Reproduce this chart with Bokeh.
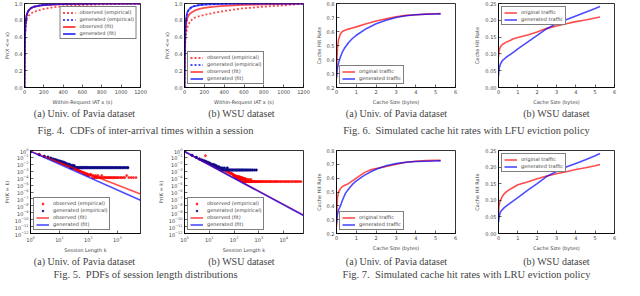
from bokeh.plotting import figure
from bokeh.layouts import column, row
from bokeh.models import (FixedTicker, NumeralTickFormatter, Legend, LegendItem,
                          Label, Range1d)
from bokeh.embed import file_html
from bokeh.resources import INLINE

# ---------------- data ----------------
# Fig. 4: CDFs of within-session inter-arrival times
iat_x = [0, 2, 5, 10, 15, 20, 30, 40, 60, 80, 100, 150, 200, 300, 400, 500, 600, 800, 1000, 1200]
pavia_cdf_obs_emp = [0, 0.40, 0.60, 0.70, 0.76, 0.79, 0.83, 0.85, 0.875, 0.89, 0.90, 0.92, 0.935, 0.955, 0.967, 0.975, 0.982, 0.99, 0.995, 1.0]
pavia_cdf_gen_emp = [0, 0.33, 0.58, 0.73, 0.80, 0.845, 0.885, 0.912, 0.94, 0.954, 0.963, 0.976, 0.983, 0.99, 0.994, 0.996, 0.997, 0.998, 0.999, 1.0]
pavia_cdf_obs_fit = [0, 0.38, 0.62, 0.75, 0.815, 0.85, 0.885, 0.91, 0.935, 0.95, 0.96, 0.973, 0.98, 0.988, 0.992, 0.994, 0.996, 0.998, 0.999, 1.0]
pavia_cdf_gen_fit = [0, 0.35, 0.60, 0.74, 0.81, 0.85, 0.89, 0.915, 0.94, 0.955, 0.963, 0.975, 0.982, 0.989, 0.993, 0.995, 0.996, 0.998, 0.999, 1.0]
wsu_cdf_obs_emp = [0, 0.28, 0.45, 0.57, 0.63, 0.67, 0.72, 0.75, 0.79, 0.815, 0.83, 0.85, 0.865, 0.89, 0.91, 0.928, 0.943, 0.962, 0.978, 1.0]
wsu_cdf_gen_emp = [0, 0.32, 0.56, 0.73, 0.80, 0.845, 0.895, 0.92, 0.948, 0.962, 0.97, 0.982, 0.988, 0.994, 0.997, 0.998, 0.999, 1.0, 1.0, 1.0]
wsu_cdf_obs_fit = [0, 0.30, 0.50, 0.65, 0.73, 0.78, 0.83, 0.855, 0.885, 0.90, 0.915, 0.935, 0.948, 0.962, 0.972, 0.979, 0.984, 0.99, 0.995, 0.998]
wsu_cdf_gen_fit = [0, 0.30, 0.55, 0.72, 0.80, 0.85, 0.90, 0.92, 0.945, 0.96, 0.97, 0.982, 0.988, 0.994, 0.996, 0.998, 0.999, 1.0, 1.0, 1.0]
iat_ticks = [0, 200, 400, 600, 800, 1000, 1200]
cdf_ticks = [0.0, 0.2, 0.4, 0.6, 0.8, 1.0]

# Fig. 5: PDFs of session length
pavia_k_obs = [1, 2, 3, 4, 5, 6, 7, 8, 9, 10, 11, 12, 13, 14, 15, 16, 17, 18, 19, 20,
               22, 24, 25, 27, 30, 32, 35, 38, 40, 43, 45, 48, 50,
               55, 60, 65, 70, 75, 80, 85, 90, 95, 100,
               110, 120, 130, 140, 150, 160, 170, 180, 190, 200,
               215, 230, 250, 270, 290, 310, 340, 370, 400,
               440, 480, 520, 570, 620, 680, 750, 820, 900, 1000,
               1100, 1250, 1400, 1600, 1800, 2100, 2500, 3000, 3600, 4400]
pavia_p_obs = [0.62, 0.24, 0.13, 0.085, 0.06, 0.042, 0.034, 0.027, 0.022, 0.018, 0.016, 0.013, 0.012, 0.0105, 0.009, 0.0085, 0.0075, 0.0068, 0.006, 0.0058,
               0.0048, 0.0042, 0.0036, 0.0034, 0.0026, 0.0025, 0.002, 0.0018, 0.0015, 0.0014, 0.0012, 0.0011, 0.001,
               0.00085, 0.0007, 0.0006, 0.00055, 0.00048, 0.0004, 0.00036, 0.00036, 0.0003, 0.00024,
               0.00024, 0.00036, 0.00024, 0.00012, 0.00024, 0.00012, 0.00012, 0.00024, 0.00012, 0.00012,
               0.00024, 0.00012, 0.00012, 0.00012, 0.00024, 0.00012, 0.00012, 0.00012, 0.00012,
               0.00012, 0.00012, 0.00012, 0.00012, 0.00012, 0.00012, 0.00012, 0.00012, 0.00012, 0.00012,
               0.00012, 0.00012, 0.00012, 0.00012, 0.00012, 0.00024, 0.00012, 0.00012, 0.00012, 0.00012]
pavia_k_gen = [1, 2, 3, 4, 5, 6, 7, 8, 9, 10, 11, 12, 13, 14, 15, 16, 17, 18, 19, 20,
               21, 22, 23, 24, 25, 26, 27, 28, 29, 30,
               32, 34, 36, 38, 40, 43, 46, 50, 54, 58,
               63, 68, 74, 80, 87, 95, 105, 115, 125, 140,
               155, 170, 190, 210, 235, 260, 290, 320, 360, 400,
               450, 500, 560, 630, 700, 800, 900, 1000, 1150, 1300,
               1500, 1700, 2000, 2300]
pavia_p_gen = [0.62, 0.27, 0.15, 0.11, 0.08, 0.06, 0.05, 0.04, 0.033, 0.03, 0.027, 0.023, 0.02, 0.02, 0.0167, 0.0133, 0.0133, 0.01, 0.01, 0.01,
               0.0067, 0.01, 0.0067, 0.0067, 0.0033, 0.0067, 0.0033, 0.0067, 0.0033, 0.0033,
               0.0067, 0.0033, 0.0033, 0.0033, 0.0033, 0.0033, 0.0033, 0.0033, 0.0033, 0.0033,
               0.0033, 0.0033, 0.0033, 0.0033, 0.0033, 0.0033, 0.0033, 0.0033, 0.0033, 0.0033,
               0.0033, 0.0033, 0.0033, 0.0033, 0.0033, 0.0033, 0.0033, 0.0033, 0.0033, 0.0033,
               0.0033, 0.0033, 0.0033, 0.0033, 0.0033, 0.0033, 0.0033, 0.0033, 0.0033, 0.0033,
               0.0033, 0.0033, 0.0033, 0.0033]
pavia_fit_k = [1, 6300]
pavia_fit_obs = [0.75, 5.0e-7]
pavia_fit_gen = [0.75, 6.3e-8]

wsu_k_obs = [1, 2, 3, 4, 5, 6, 7, 8, 9, 10,
             12, 14, 16, 18, 20, 22, 25, 28, 30, 33, 36, 40, 45, 50, 55, 60, 65, 70, 75, 80, 85, 90, 95,
             100, 104, 108, 112, 116, 120, 124, 128, 132, 136,
             140, 144, 148, 152, 156, 160, 165, 170, 175, 180,
             185, 190, 195, 200, 206, 212, 218, 224, 230, 237,
             244, 251, 258, 266, 274, 282, 290, 300, 310, 320,
             335, 350, 365, 380, 400, 420, 440, 460, 480, 500,
             530, 560, 600, 640, 690, 740, 800, 860, 930, 1000,
             1100, 1200, 1300, 1450, 1600, 1800, 2000, 2200, 2500, 2800,
             3100, 3500, 4000, 4500, 5000, 5700, 6500, 7500, 8500, 10000,
             11500, 13000, 15000, 17000, 20000, 23000, 27000, 31000, 36000, 42000, 50000]
wsu_p_obs = [0.7, 0.2, 0.1, 0.06, 0.042, 0.03, 0.18, 0.019, 0.016, 0.013,
             0.0095, 0.0075, 0.006, 0.0052, 0.0045, 0.0038, 0.0031, 0.0026, 0.0023, 0.0019, 0.0017, 0.0014, 0.0012, 0.00095, 0.0008, 0.00075, 0.0006, 0.00055, 0.00045, 0.0005, 0.00038, 0.00035, 0.00029,
             2.6e-4, 1.9e-4, 2.2e-4, 1.6e-4, 2.2e-4, 1.3e-4, 1.9e-4, 1.6e-4, 9.6e-5, 1.6e-4,
             1.3e-4, 9.6e-5, 1.9e-4, 1.3e-4, 6.4e-5, 1.3e-4, 9.6e-5, 1.6e-4, 6.4e-5, 9.6e-5,
             1.3e-4, 6.4e-5, 9.6e-5, 6.4e-5, 1.3e-4, 3.2e-5, 9.6e-5, 6.4e-5, 3.2e-5, 9.6e-5,
             6.4e-5, 3.2e-5, 6.4e-5, 3.2e-5, 9.6e-5, 3.2e-5, 6.4e-5, 3.2e-5, 6.4e-5, 3.2e-5,
             3.2e-5, 6.4e-5, 3.2e-5, 3.2e-5, 6.4e-5, 3.2e-5, 3.2e-5, 3.2e-5, 6.4e-5, 3.2e-5,
             3.2e-5, 3.2e-5, 3.2e-5, 3.2e-5, 3.2e-5, 3.2e-5, 3.2e-5, 3.2e-5, 3.2e-5, 3.2e-5,
             3.2e-5, 3.2e-5, 3.2e-5, 3.2e-5, 3.2e-5, 3.2e-5, 3.2e-5, 3.2e-5, 3.2e-5, 3.2e-5,
             3.2e-5, 3.2e-5, 3.2e-5, 3.2e-5, 3.2e-5, 3.2e-5, 3.2e-5, 3.2e-5, 3.2e-5, 3.2e-5,
             3.2e-5, 3.2e-5, 3.2e-5, 3.2e-5, 3.2e-5, 3.2e-5, 3.2e-5, 3.2e-5, 3.2e-5, 3.2e-5, 3.2e-5]
wsu_k_gen = [1, 2, 3, 4, 5, 6, 7, 8, 9, 10, 11, 12, 13, 14, 15, 16, 17, 18, 19, 20,
             22, 24, 26, 28, 30, 33, 36, 40, 44, 48,
             53, 58, 64, 70, 77, 85, 94, 104, 115, 127,
             140, 155, 170, 190, 210, 235, 260, 290, 330, 370,
             420, 480, 550, 650, 780]
wsu_p_gen = [0.66, 0.21, 0.1, 0.06, 0.042, 0.033, 0.027, 0.021, 0.018, 0.015, 0.012, 0.0105, 0.009, 0.0075, 0.009, 0.006, 0.0075, 0.0045, 0.006, 0.0045,
             0.003, 0.0045, 0.003, 0.003, 0.0015, 0.003, 0.0015, 0.003, 0.0015, 0.0015,
             0.003, 0.0015, 0.0015, 0.0015, 0.0015, 0.0015, 0.0015, 0.0015, 0.0015, 0.0015,
             0.0015, 0.0015, 0.0015, 0.0015, 0.0015, 0.0015, 0.0015, 0.0015, 0.0015, 0.0015,
             0.0015, 0.0015, 0.0015, 0.0015, 0.0015]
wsu_fit_k = [1, 63000]
wsu_fit_obs = [0.7, 4.5e-10]
wsu_fit_gen = [0.7, 4.0e-10]
pdf_y_ticks = [1e-12, 1e-11, 1e-10, 1e-9, 1e-8, 1e-7, 1e-6, 1e-5, 1e-4, 1e-3, 1e-2, 1e-1, 1]

# Fig. 6 / 7: cache hit rate vs cache size (x in units of 1e8 bytes)
lfu_pavia_x = [0.0, 0.02, 0.05, 0.1, 0.2, 0.3, 0.4, 0.6, 0.8, 1.0, 1.5, 2.0, 2.5, 3.0, 3.5, 4.0, 4.5, 5.0, 5.25]
lfu_pavia_orig = [0.27, 0.40, 0.48, 0.54, 0.585, 0.60, 0.607, 0.617, 0.625, 0.633, 0.655, 0.675, 0.69, 0.705, 0.715, 0.72, 0.724, 0.727, 0.728]
lfu_pavia_gen = [0.27, 0.31, 0.34, 0.375, 0.42, 0.455, 0.48, 0.52, 0.55, 0.573, 0.62, 0.655, 0.68, 0.70, 0.713, 0.72, 0.723, 0.725, 0.726]
lfu_wsu_x = [0.0, 0.02, 0.05, 0.1, 0.2, 0.4, 0.6, 0.8, 1.0, 1.5, 2.0, 2.5, 3.0, 3.5, 4.0, 4.5, 5.0, 5.25]
lfu_wsu_orig = [0.09, 0.105, 0.113, 0.121, 0.128, 0.135, 0.14, 0.146, 0.149, 0.156, 0.165, 0.176, 0.183, 0.19, 0.196, 0.201, 0.207, 0.21]
lfu_wsu_gen = [0.035, 0.05, 0.06, 0.07, 0.08, 0.09, 0.098, 0.106, 0.115, 0.135, 0.155, 0.175, 0.19, 0.202, 0.213, 0.224, 0.235, 0.241]
lru_pavia_x = [0.0, 0.02, 0.05, 0.1, 0.2, 0.3, 0.45, 0.6, 0.8, 1.0, 1.2, 1.4, 1.7, 2.0, 2.5, 3.0, 3.5, 4.0, 4.5, 5.0, 5.25]
lru_pavia_orig = [0.25, 0.38, 0.46, 0.50, 0.525, 0.54, 0.55, 0.56, 0.58, 0.60, 0.62, 0.64, 0.66, 0.67, 0.685, 0.70, 0.715, 0.722, 0.727, 0.729, 0.73]
lru_pavia_gen = [0.27, 0.31, 0.34, 0.37, 0.40, 0.44, 0.49, 0.52, 0.555, 0.58, 0.60, 0.62, 0.645, 0.665, 0.69, 0.705, 0.715, 0.72, 0.722, 0.724, 0.725]
lru_wsu_x = [0.0, 0.02, 0.05, 0.1, 0.2, 0.3, 0.5, 0.8, 1.0, 1.5, 2.0, 2.5, 3.0, 3.5, 4.0, 4.5, 5.0, 5.25]
lru_wsu_orig = [0.06, 0.08, 0.09, 0.10, 0.112, 0.12, 0.13, 0.14, 0.147, 0.155, 0.165, 0.173, 0.18, 0.186, 0.193, 0.198, 0.204, 0.208]
lru_wsu_gen = [0.035, 0.045, 0.055, 0.065, 0.072, 0.078, 0.087, 0.10, 0.108, 0.13, 0.15, 0.172, 0.187, 0.2, 0.211, 0.222, 0.234, 0.241]
cache_x_ticks = [0, 1, 2, 3, 4, 5, 6]
hit_ticks_pavia = [0.2, 0.3, 0.4, 0.5, 0.6, 0.7, 0.8]
hit_ticks_wsu = [0.0, 0.05, 0.10, 0.15, 0.20, 0.25]

sub_captions = ["(a) Univ. of Pavia dataset", "(b) WSU dataset",
                "(a) Univ. of Pavia dataset", "(b) WSU dataset"]
fig_captions_top = ["Fig. 4.\u2002CDFs of inter-arrival times within a session",
                    "Fig. 6.\u2002Simulated cache hit rates with LFU eviction policy"]
fig_captions_bottom = ["Fig. 5.\u2002PDFs of session length distributions",
                       "Fig. 7.\u2002Simulated cache hit rates with LRU eviction policy"]

RED = "#ff0000"
BLUE = "#0000ff"
SANS = "DejaVu Sans"
SERIF = "Liberation Serif"


def style_axis(ax):
    ax.major_tick_in = 3
    ax.major_tick_out = 0
    ax.minor_tick_in = 0
    ax.minor_tick_out = 0
    ax.axis_line_width = 0.8
    ax.major_tick_line_width = 0.6
    ax.major_label_text_font = SANS
    ax.major_label_text_font_size = "5px"
    ax.major_label_standoff = 2
    ax.axis_label_text_font = SANS
    ax.axis_label_text_font_size = "5px"
    ax.axis_label_text_font_style = "normal"
    ax.axis_label_standoff = 2


def base_fig(w, h, bl, br, bt, bb, xr, yr, xtype="linear", ytype="linear"):
    p = figure(width=w, height=h, x_range=xr, y_range=yr,
               x_axis_type=xtype, y_axis_type=ytype,
               output_backend="svg", toolbar_location=None,
               min_border_left=bl, min_border_right=br,
               min_border_top=bt, min_border_bottom=bb)
    p.grid.visible = False
    p.outline_line_color = "black"
    p.outline_line_width = 0.8
    p.outline_line_alpha = 1
    for ax in p.axis:
        style_axis(ax)
    return p


def add_legend(p, items, loc):
    lg = Legend(items=items, location=loc)
    lg.label_text_font = SANS
    lg.label_text_font_size = "5px"
    lg.label_height = 5
    lg.glyph_height = 5
    lg.glyph_width = 13
    lg.spacing = 1
    lg.padding = 2
    lg.margin = 3
    lg.label_standoff = 4
    lg.border_line_color = "black"
    lg.border_line_width = 0.6
    lg.background_fill_alpha = 1
    p.add_layout(lg, "center")


def cdf_fig(w, bl, br, obs_emp, gen_emp, obs_fit, gen_fit, loc):
    p = base_fig(w, 107, bl, br, 3, 15, Range1d(0, 1200), Range1d(0, 1.0))
    p.xaxis.ticker = FixedTicker(ticks=iat_ticks)
    p.yaxis.ticker = FixedTicker(ticks=cdf_ticks)
    p.yaxis.formatter = NumeralTickFormatter(format="0.0")
    p.xaxis.axis_label = "Within-Request IAT x (s)"
    p.yaxis.axis_label = "Pr(X <= x)"
    r1 = p.line(iat_x, obs_emp, line_color=RED, line_width=1.8, line_alpha=0.7, line_dash="2 2")
    r2 = p.line(iat_x, gen_emp, line_color=BLUE, line_width=1.8, line_alpha=0.7, line_dash="2 2")
    r3 = p.line(iat_x, obs_fit, line_color=RED, line_width=1.8, line_alpha=0.7)
    r4 = p.line(iat_x, gen_fit, line_color=BLUE, line_width=1.8, line_alpha=0.7)
    add_legend(p, [LegendItem(label="observed (empirical)", renderers=[r1]),
                   LegendItem(label="generated (empirical)", renderers=[r2]),
                   LegendItem(label="observed (fit)", renderers=[r3]),
                   LegendItem(label="generated (fit)", renderers=[r4])], loc)
    return p


def pdf_fig(w, bl, br, xmax, xticks, k_obs, p_obs, k_gen, p_gen, fk, f_obs, f_gen):
    p = base_fig(w, 118, bl, br, 13, 17, Range1d(1, xmax), Range1d(1e-12, 1),
                 xtype="log", ytype="log")
    p.xaxis.ticker = FixedTicker(ticks=xticks)
    p.yaxis.ticker = FixedTicker(ticks=pdf_y_ticks)
    p.xaxis.axis_label = "Session Length k"
    p.yaxis.axis_label = "Pr(K = k)"
    r1 = p.scatter(k_obs, p_obs, marker="circle", size=2, fill_color=RED, line_color=RED,
                   fill_alpha=0.7, line_alpha=0.7)
    r2 = p.scatter(k_gen, p_gen, marker="circle", size=2.6, fill_color="#000066",
                   line_color="#2222aa", line_width=0.5)
    r3 = p.line(fk, f_obs, line_color=RED, line_width=1.6, line_alpha=0.7)
    r4 = p.line(fk, f_gen, line_color=BLUE, line_width=1.6, line_alpha=0.7)
    add_legend(p, [LegendItem(label="observed (empirical)", renderers=[r1]),
                   LegendItem(label="generated (empirical)", renderers=[r2]),
                   LegendItem(label="observed (fit)", renderers=[r3]),
                   LegendItem(label="generated (fit)", renderers=[r4])], "bottom_left")
    return p


def hit_fig(w, h, bl, br, bt, bb, yr, yticks, yfmt, xs, orig, gen, loc):
    p = base_fig(w, h, bl, br, bt, bb, Range1d(0, 6), Range1d(*yr))
    p.xaxis.ticker = FixedTicker(ticks=cache_x_ticks)
    p.yaxis.ticker = FixedTicker(ticks=yticks)
    p.yaxis.formatter = NumeralTickFormatter(format=yfmt)
    p.xaxis.axis_label = "Cache Size (bytes)"
    p.yaxis.axis_label = "Cache Hit Rate"
    r1 = p.line(xs, orig, line_color=RED, line_width=1.6, line_alpha=0.7)
    r2 = p.line(xs, gen, line_color=BLUE, line_width=1.6, line_alpha=0.7)
    add_legend(p, [LegendItem(label="original traffic", renderers=[r1]),
                   LegendItem(label="generated traffic", renderers=[r2])], loc)
    p.add_layout(Label(x=6, y=yr[0], text="1e8", text_align="right", text_baseline="middle",
                       y_offset=-10, text_font=SANS, text_font_size="5px", level="overlay"))
    return p


def caption_strip(h, sub_y, fig_y, fig_texts):
    p = figure(width=624, height=h, x_range=Range1d(0, 624), y_range=Range1d(0, h),
               output_backend="svg", toolbar_location=None, min_border=0,
               x_axis_type=None, y_axis_type=None)
    p.outline_line_color = None
    for t, x in zip(sub_captions, [84, 241, 396, 556]):
        p.add_layout(Label(x=x, y=sub_y, text=t, text_align="center", text_baseline="middle",
                           text_font=SERIF, text_font_size="10px"))
    for t, x in zip(fig_texts, [145, 466]):
        p.add_layout(Label(x=x, y=fig_y, text=t, text_align="center", text_baseline="middle",
                           text_font=SERIF, text_font_size="10.5px"))
    return p


f4a = cdf_fig(150, 21, 10, pavia_cdf_obs_emp, pavia_cdf_gen_emp, pavia_cdf_obs_fit, pavia_cdf_gen_fit, "top_right")
f4b = cdf_fig(162, 34, 9, wsu_cdf_obs_emp, wsu_cdf_gen_emp, wsu_cdf_obs_fit, wsu_cdf_gen_fit, "bottom_left")
f6a = hit_fig(158, 107, 24, 15, 3, 15, (0.2, 0.8), hit_ticks_pavia, "0.0",
              lfu_pavia_x, lfu_pavia_orig, lfu_pavia_gen, "bottom_left")
f6b = hit_fig(154, 107, 28, 10, 3, 15, (0.0, 0.25), hit_ticks_wsu, "0.00",
              lfu_wsu_x, lfu_wsu_orig, lfu_wsu_gen, "top_left")

f5a = pdf_fig(150, 24, 10, 6300, [1, 10, 100, 1000], pavia_k_obs, pavia_p_obs, pavia_k_gen, pavia_p_gen,
              pavia_fit_k, pavia_fit_obs, pavia_fit_gen)
f5b = pdf_fig(162, 34, 9, 63000, [1, 10, 100, 1000, 10000], wsu_k_obs, wsu_p_obs, wsu_k_gen, wsu_p_gen,
              wsu_fit_k, wsu_fit_obs, wsu_fit_gen)
f7a = hit_fig(158, 118, 24, 15, 13, 17, (0.2, 0.8), hit_ticks_pavia, "0.0",
              lru_pavia_x, lru_pavia_orig, lru_pavia_gen, "bottom_left")
f7b = hit_fig(154, 118, 28, 10, 13, 17, (0.0, 0.25), hit_ticks_wsu, "0.00",
              lru_wsu_x, lru_wsu_orig, lru_wsu_gen, "top_left")

cap1 = caption_strip(30, 24, 7, fig_captions_top)
cap2 = caption_strip(25, 19, 6, fig_captions_bottom)

layout = column(row(f4a, f4b, f6a, f6b), cap1, row(f5a, f5b, f7a, f7b), cap2)

open("out.html", "w").write(file_html(layout, INLINE))
